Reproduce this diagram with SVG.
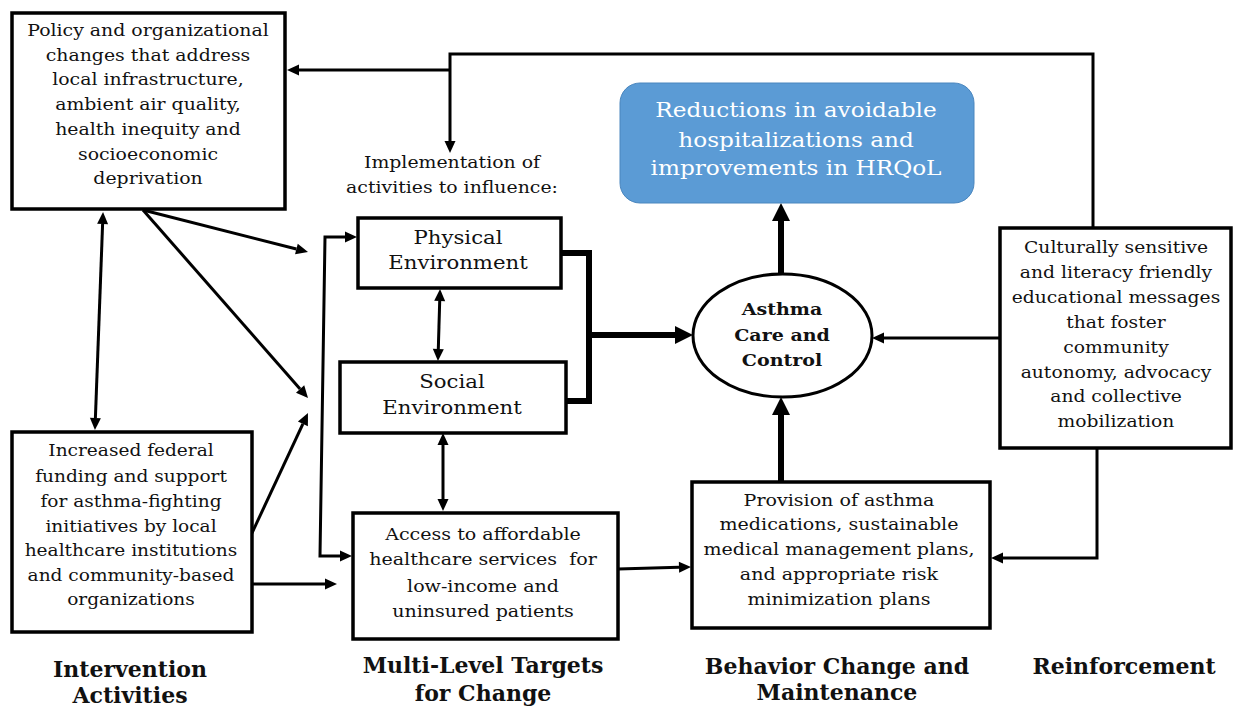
<svg xmlns="http://www.w3.org/2000/svg" width="1233" height="707" viewBox="0 0 1233 707">
<style>
.box{fill:#fff;stroke:#000;stroke-width:3.5}
.t{font-family:"DejaVu Serif","Liberation Serif",serif;font-size:16px;fill:#111;text-anchor:middle}
.tm{font-family:"DejaVu Serif","Liberation Serif",serif;font-size:18px;fill:#111;text-anchor:middle}
.tb{font-family:"DejaVu Serif","Liberation Serif",serif;font-size:17px;font-weight:bold;fill:#111;text-anchor:middle}
.tw{font-family:"DejaVu Serif","Liberation Serif",serif;font-size:20px;fill:#fff;text-anchor:middle}
.lab{font-family:"DejaVu Serif","Liberation Serif",serif;font-size:22px;font-weight:bold;fill:#111;text-anchor:middle}
.ln{fill:none;stroke:#000;stroke-width:3;stroke-linejoin:miter}
.lt{fill:none;stroke:#000;stroke-width:6;stroke-linejoin:miter}
</style>
<defs>
<marker id="a" markerUnits="userSpaceOnUse" markerWidth="12" markerHeight="11" refX="0" refY="5.5" orient="auto-start-reverse" overflow="visible"><path d="M0,0 L12,5.5 L0,11 z" fill="#000"/></marker>
<marker id="at" markerUnits="userSpaceOnUse" markerWidth="18" markerHeight="18" refX="0" refY="9" orient="auto" overflow="visible"><path d="M0,0 L18,9 L0,18 z" fill="#000"/></marker>
</defs>

<g id="connectors">
<path class="ln" d="M1093,228 V54 H450 V141" marker-end="url(#a)"/>
<path class="ln" d="M450,70 H299" marker-end="url(#a)"/>
<path class="ln" d="M102.6,224 L95.4,418" marker-start="url(#a)" marker-end="url(#a)"/>
<path class="ln" d="M143,210 L296.4,249" marker-end="url(#a)"/>
<path class="ln" d="M143,210 L300.1,389" marker-end="url(#a)"/>
<path class="ln" d="M252,533 L302.9,423.9" marker-end="url(#a)"/>
<path class="ln" d="M345,237 H325 L320,556 H340" marker-start="url(#a)" marker-end="url(#a)"/>
<path class="ln" d="M252,584 H325" marker-end="url(#a)"/>
<path class="ln" d="M439.7,301 L438.3,349" marker-start="url(#a)" marker-end="url(#a)"/>
<path class="ln" d="M443,445 V499" marker-start="url(#a)" marker-end="url(#a)"/>
<path class="ln" d="M618,569 L679,567.3" marker-end="url(#a)"/>
<path class="lt" d="M561,253 H589 V401 H566"/>
<path class="lt" d="M589,335 H675" marker-end="url(#at)"/>
<path class="lt" d="M781,482 V415" marker-end="url(#at)"/>
<path class="lt" d="M781,274 V221" marker-end="url(#at)"/>
<path class="ln" d="M1000,338 H884" marker-end="url(#a)"/>
<path class="ln" d="M1097,448 V558 H1003" marker-end="url(#a)"/>
</g>

<g id="policy">
<rect class="box" x="12" y="13" width="273" height="196"/>
<g transform="translate(148,0) scale(1.18,1)">
<text class="t" x="0" y="36">Policy and organizational</text>
<text class="t" x="0" y="61">changes that address</text>
<text class="t" x="0" y="85">local infrastructure,</text>
<text class="t" x="0" y="110">ambient air quality,</text>
<text class="t" x="0" y="135">health inequity and</text>
<text class="t" x="0" y="160">socioeconomic</text>
<text class="t" x="0" y="184">deprivation</text>
</g>
</g>

<g id="funding">
<rect class="box" x="12" y="432" width="240" height="200"/>
<g transform="translate(131,0) scale(1.16,1)">
<text class="t" x="0" y="456">Increased federal</text>
<text class="t" x="0" y="482">funding and support</text>
<text class="t" x="0" y="507">for asthma-fighting</text>
<text class="t" x="0" y="532">initiatives by local</text>
<text class="t" x="0" y="556">healthcare institutions</text>
<text class="t" x="0" y="581">and community-based</text>
<text class="t" x="0" y="605">organizations</text>
</g>
</g>

<g id="implementation">
<g transform="translate(452,0) scale(1.18,1)">
<text class="t" x="0" y="168">Implementation of</text>
<text class="t" x="0" y="193">activities to influence:</text>
</g>
</g>

<g id="physical">
<rect class="box" x="358" y="218" width="203" height="70"/>
<g transform="translate(458,0) scale(1.18,1)">
<text class="tm" x="0" y="244">Physical</text>
<text class="tm" x="0" y="269">Environment</text>
</g>
</g>

<g id="social">
<rect class="box" x="340" y="362" width="226" height="71"/>
<g transform="translate(452,0) scale(1.18,1)">
<text class="tm" x="0" y="388">Social</text>
<text class="tm" x="0" y="414">Environment</text>
</g>
</g>

<g id="access">
<rect class="box" x="353" y="513" width="265" height="126"/>
<g transform="translate(483,0) scale(1.19,1)">
<text class="t" x="0" y="540">Access to affordable</text>
<text class="t" x="0" y="565" xml:space="preserve">healthcare services  for</text>
<text class="t" x="0" y="592">low-income and</text>
<text class="t" x="0" y="617">uninsured patients</text>
</g>
</g>

<g id="outcome">
<rect x="620" y="83" width="354" height="120" rx="20" ry="20" fill="#5b9bd5" stroke="#4a86be" stroke-width="1"/>
<g transform="translate(796,0) scale(1.16,1)">
<text class="tw" x="0" y="117">Reductions in avoidable</text>
<text class="tw" x="0" y="147">hospitalizations and</text>
<text class="tw" x="0" y="175">improvements in HRQoL</text>
</g>
</g>

<g id="asthma">
<ellipse cx="782.5" cy="335.5" rx="89.5" ry="61.5" fill="#fff" stroke="#000" stroke-width="3"/>
<g transform="translate(782,0) scale(1.12,1)">
<text class="tb" x="0" y="315">Asthma</text>
<text class="tb" x="0" y="341">Care and</text>
<text class="tb" x="0" y="366">Control</text>
</g>
</g>

<g id="provision">
<rect class="box" x="692" y="482" width="298" height="146"/>
<g transform="translate(839,0) scale(1.19,1)">
<text class="t" x="0" y="506">Provision of asthma</text>
<text class="t" x="0" y="530">medications, sustainable</text>
<text class="t" x="0" y="555">medical management plans,</text>
<text class="t" x="0" y="580">and appropriate risk</text>
<text class="t" x="0" y="605">minimization plans</text>
</g>
</g>

<g id="messages">
<rect class="box" x="1000" y="228" width="231" height="220"/>
<g transform="translate(1116,0) scale(1.17,1)">
<text class="t" x="0" y="253">Culturally sensitive</text>
<text class="t" x="0" y="278">and literacy friendly</text>
<text class="t" x="0" y="303">educational messages</text>
<text class="t" x="0" y="328">that foster</text>
<text class="t" x="0" y="353">community</text>
<text class="t" x="0" y="378">autonomy, advocacy</text>
<text class="t" x="0" y="402">and collective</text>
<text class="t" x="0" y="427">mobilization</text>
</g>
</g>

<g id="labels">
<text class="lab" x="130" y="677">Intervention</text>
<text class="lab" x="130" y="703">Activities</text>
<text class="lab" x="483" y="673">Multi-Level Targets</text>
<text class="lab" x="483" y="701">for Change</text>
<text class="lab" x="837" y="674">Behavior Change and</text>
<text class="lab" x="837" y="700">Maintenance</text>
<text class="lab" x="1124" y="674">Reinforcement</text>
</g>
</svg>
